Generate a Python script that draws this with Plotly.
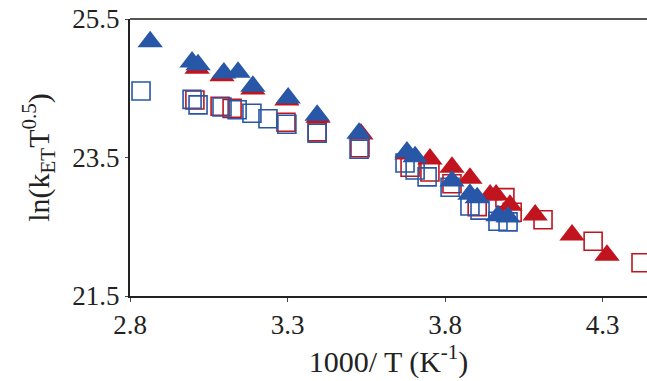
import plotly.graph_objects as go

# Blue series (filled triangles and open squares)
blue_tri_x = [2.864, 2.997, 3.016, 3.098, 3.143, 3.190, 3.302, 3.394, 3.527, 3.679, 3.705, 3.822, 3.879, 3.902, 3.968, 4.000]
blue_tri_y = [25.17, 24.88, 24.84, 24.72, 24.73, 24.53, 24.36, 24.11, 23.85, 23.58, 23.51, 23.16, 22.97, 22.92, 22.66, 22.64]
blue_sq_x = [2.835, 2.997, 3.016, 3.092, 3.140, 3.187, 3.238, 3.298, 3.394, 3.527, 3.673, 3.705, 3.743, 3.816, 3.879, 3.911, 3.968, 4.000]
blue_sq_y = [24.46, 24.34, 24.26, 24.23, 24.19, 24.14, 24.06, 23.98, 23.85, 23.62, 23.42, 23.32, 23.22, 23.07, 22.80, 22.74, 22.58, 22.57]

# Red series (filled triangles and open squares)
red_tri_x = [3.013, 3.092, 3.190, 3.298, 3.397, 3.533, 3.679, 3.752, 3.822, 3.879, 3.943, 3.962, 4.006, 4.086, 4.203, 4.314]
red_tri_y = [24.79, 24.68, 24.49, 24.33, 24.08, 23.84, 23.55, 23.48, 23.36, 23.20, 22.96, 22.96, 22.81, 22.67, 22.38, 22.09]
red_sq_x = [3.006, 3.086, 3.124, 3.295, 3.394, 3.530, 3.689, 3.752, 3.822, 3.902, 3.990, 4.013, 4.111, 4.270, 4.422]
red_sq_y = [24.33, 24.24, 24.21, 24.01, 23.87, 23.64, 23.36, 23.29, 23.12, 22.79, 22.92, 22.71, 22.60, 22.29, 21.98]

x_ticks = [2.8, 3.3, 3.8, 4.3]
y_ticks = [21.5, 23.5, 25.5]

BLUE = "#2757A6"
RED = "#C0141F"

fig = go.Figure()
fig.add_trace(go.Scatter(x=red_sq_x, y=red_sq_y, mode="markers",
                         marker=dict(symbol="square-open", size=18, color=RED, line=dict(width=1.6, color=RED))))
fig.add_trace(go.Scatter(x=red_tri_x, y=red_tri_y, mode="markers",
                         marker=dict(symbol="triangle-up", size=22, color=RED, line=dict(width=0))))
fig.add_trace(go.Scatter(x=blue_sq_x, y=blue_sq_y, mode="markers",
                         marker=dict(symbol="square-open", size=18, color=BLUE, line=dict(width=1.6, color=BLUE))))
fig.add_trace(go.Scatter(x=blue_tri_x, y=blue_tri_y, mode="markers",
                         marker=dict(symbol="triangle-up", size=22, color=BLUE, line=dict(width=0))))

font = dict(family="Liberation Serif", size=25, color="#222222")
tick_font = dict(family="Liberation Serif", size=27, color="#222222")

fig.update_layout(
    width=647, height=381,
    margin=dict(l=130, r=0, t=19, b=85),
    paper_bgcolor="white", plot_bgcolor="white",
    showlegend=False,
    font=font,
    xaxis=dict(range=[2.8, 4.441], tickvals=x_ticks, ticktext=[f"{v:.1f}" for v in x_ticks],
               showgrid=False, zeroline=False, showline=True, linecolor="#222222", linewidth=2,
               ticks="outside", ticklen=4, tickcolor="#444444", tickwidth=1, tickfont=tick_font,
               title=dict(text="1000/ T (K<sup>-1</sup>)", standoff=6), ticklabelstandoff=0),
    yaxis=dict(range=[21.5, 25.5], tickvals=y_ticks, ticktext=[f"{v:.1f}" for v in y_ticks],
               showgrid=False, zeroline=False, showline=True, linecolor="#222222", linewidth=2,
               ticks="outside", ticklen=3, tickcolor="#444444", tickwidth=1, tickfont=tick_font,
               title=dict(text="ln(k<sub>ET</sub>T<sup>0.5</sup>)", standoff=14)),
    shapes=[dict(type="line", xref="paper", yref="paper", x0=0, x1=1, y0=1, y1=1,
                 line=dict(color="#555555", width=2))],
)

fig.write_html("out.html")
